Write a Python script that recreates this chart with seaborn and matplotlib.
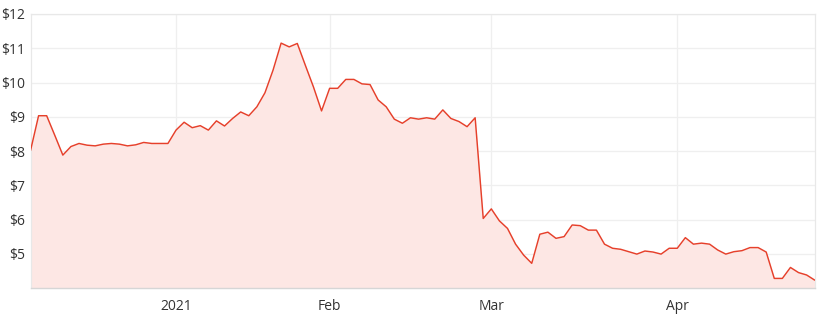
import matplotlib
matplotlib.use("Agg")
import matplotlib.pyplot as plt
import seaborn as sns
import pandas as pd

prices = [
    8.01, 9.03, 9.03, 8.46, 7.88, 8.13, 8.22, 8.17, 8.15, 8.20,
    8.22, 8.20, 8.15, 8.18, 8.25, 8.22, 8.22, 8.22, 8.61, 8.84,
    8.68, 8.74, 8.61, 8.88, 8.73, 8.95, 9.14, 9.03, 9.29, 9.70,
    10.36, 11.15, 11.04, 11.14, 10.50, 9.87, 9.17, 9.83, 9.83, 10.09,
    10.09, 9.96, 9.94, 9.49, 9.29, 8.93, 8.81, 8.97, 8.93, 8.97,
    8.93, 9.20, 8.95, 8.86, 8.71, 8.97, 6.03, 6.31, 5.96, 5.74,
    5.28, 4.96, 4.72, 5.57, 5.63, 5.45, 5.50, 5.84, 5.82, 5.69,
    5.69, 5.28, 5.16, 5.13, 5.06, 4.99, 5.08, 5.05, 4.99, 5.16,
    5.16, 5.47, 5.28, 5.31, 5.28, 5.11, 4.99, 5.06, 5.09, 5.18,
    5.18, 5.05, 4.28, 4.28, 4.60, 4.45, 4.38, 4.23,
]
month_labels = ["2021", "Feb", "Mar", "Apr"]
month_positions = [18, 37, 57, 80]
y_ticks = [5, 6, 7, 8, 9, 10, 11, 12]
y_labels = ["$" + str(v) for v in y_ticks]

df = pd.DataFrame({"day": list(range(len(prices))), "price": prices})

sns.set_style("white")
plt.rcParams["font.family"] = ["Open Sans", "DejaVu Sans"]

fig = plt.figure(figsize=(8.23, 3.25), dpi=100)
ax = fig.add_axes([30.5 / 823, 37 / 325, (814.7 - 30.5) / 823, 274 / 325])

line_color = "#e6402b"
fill_color = "#fde7e4"

ax.fill_between(df["day"], df["price"], 4, color=fill_color, lw=0, zorder=1)
sns.lineplot(data=df, x="day", y="price", ax=ax, color=line_color, lw=1.05, zorder=3)

ax.set_xlim(0, len(prices) - 1)
ax.set_ylim(4, 12)
ax.set_yticks(y_ticks)
ax.set_yticklabels(y_labels)
ax.set_xticks(month_positions)
ax.set_xticklabels(month_labels)
ax.set_xlabel("")
ax.set_ylabel("")

ax.grid(True, color="#efefef", lw=0.9, zorder=0)
ax.set_axisbelow(True)
ax.tick_params(axis="both", length=0, labelsize=10, colors="#333333")
ax.tick_params(axis="y", pad=4)
ax.tick_params(axis="x", pad=8)

for side in ["top", "right", "left"]:
    ax.spines[side].set_color("#e8e8e8")
    ax.spines[side].set_linewidth(0.9)
ax.spines["bottom"].set_color("#d6d6d6")
ax.spines["bottom"].set_linewidth(1.0)

fig.savefig("out.png", dpi=100)
